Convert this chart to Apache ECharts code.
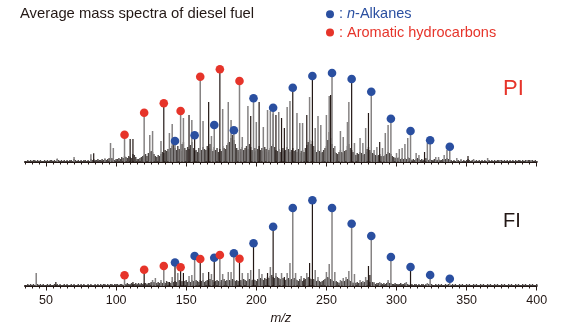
<!DOCTYPE html>
<html><head><meta charset="utf-8">
<script src="https://cdn.jsdelivr.net/npm/echarts@6/dist/echarts.min.js"></script>
<style>html,body{margin:0;padding:0;background:#fff}#c{width:562px;height:332px}</style>
</head><body><div id="c"></div>
<script>
// ---------------- data ----------------
const mzMin = 35, mzMax = 400;
const tickLabels = [50, 100, 150, 200, 250, 300, 350, 400];

const alkaneMz   = [142, 156, 170, 184, 198, 212, 226, 240, 254, 268, 282, 296, 310, 324, 338];
const aromaticMz = [106, 120, 134, 146, 160, 174, 188];

// relative intensities (PI = photoionization, FI = field ionization)
const piAlkane   = [21, 26.7, 37, 31.7, 63.7, 54.3, 74.3, 86, 89, 83, 70.3, 43.3, 31, 21.7, 15.3];
const piAromatic = [27.3, 49.3, 58.7, 51, 85.3, 92.7, 81];
const fiAlkane   = [23.5, 30, 28.3, 32.7, 42.7, 59.3, 78, 85.7, 78, 62.3, 50, 29, 19, 11, 7.3];
const fiAromatic = [10.7, 16.3, 20, 18.7, 27, 31, 27.3];

// marked peaks that belong to the dark trace
const piDarkPeaks = [134, 174, 156, 226, 240, 268];
const fiDarkPeaks = [120, 146, 160, 188, 142, 170, 198, 212, 240, 310];

// other peaks [m/z, intensity]
const piGray = [[96,19],[98,14],[124,27],[126,31],[132,21],[138,29],[140,38],[148,44],[154,42],[162,41],
  [168,26],[176,53],[180,60],[182,42],[190,25],[194,56],[200,40],[205,35],[208,52],[210,51],[212,48],
  [216,50],[222,55],[224,61],[229,49],[231,39],[233,39],[238,65],[242,34],[244,46],[246,37],[250,47],
  [252,66],[256,16],[260,31],[262,25],[265,40],[266,60],[270,19],[274,24],[276,19],[278,34],[284,12],
  [286,15],[290,14],[292,29],[294,37],[300,9],[302,13],[304,14],[306,18],[308,24],[314,9],[316,7],
  [322,19],[328,5],[330,5],[334,7],[336,12],[343,4],[346,3],[355,3],[365,4],[374,2],[393,2],[396,2],
  [58,3.5],[70,5],[82,7.7],[92,3.7]];
const piBlack = [[84,8.7],[110,23],[112,23],[152,47],[166,60],[196,46],[202,60],[214,47],[218,44],[220,34],
  [236,47],[253,67],[280,49],[288,20],[320,10],[351,6]];

const fiGray = [[43,13],[126,6],[128,8],[132,6],[140,9],[144,13],[152,10],[154,11],[162,13],[168,12],
  [176,12],[180,14],[182,14],[190,13],[194,13],[196,16],[202,17],[204,12],[210,19],[214,13],[218,13],
  [222,13],[224,23],[228,13],[232,10],[236,13],[242,16],[244,9],[250,14],[252,22],[256,14],[260,6],
  [262,8],[264,9],[266,15],[270,12],[274,6],[276,5],[278,9],[284,4],[288,4],[294,6],[307,4],[322,3]];
const fiBlack = [[57,4],[112,4],[138,4],[148,13],[166,14],[208,13],[220,9],[234,8],[238,23],[280,20],[281,11]];

// dense low-level background, one value per m/z starting at lowStartMz
const lowStartMz = 36;
const piLow = [
 1,2,1,2,1,2,2,1,2,1,2,1,1,2,1,2,1,2,2,1,
 2,1,3,2,1,2,1,2,1,2,1,2,2,1,3,2,1,2,1,2,
 1,2,2,1,2,1,3,2,3,2,
 2,3,2,2,3,2,3,2,3,4,3,4,3,2,3,
 3,4,3,5,4,6,5,4,6,5,4,8,7,5,3,3,4,5,6,7,
 8,6,9,10,11,10,8,6,5,7,6,8,10,9,12,11,13,10,14,16,
 18,14,12,16,13,11,18,20,14,12,15,13,17,20,14,11,12,10,14,9,
 12,15,13,12,16,14,18,13,11,15,12,14,10,13,11,16,14,13,17,19,
 20,24,27,22,18,14,12,10,13,15,12,14,16,13,18,15,12,10,14,11,
 13,16,12,14,11,15,13,10,12,14,16,18,15,12,11,13,10,12,14,11,
 12,15,13,10,12,14,11,12,10,13,9,11,12,10,14,17,20,22,18,21,
 16,12,10,12,11,9,10,12,14,16,22,30,24,18,14,10,9,8,10,12,
 10,9,11,12,16,18,14,12,10,8,7,9,8,10,9,7,8,10,13,15,
 12,10,9,8,7,6,7,8,6,5,6,7,8,10,9,8,6,5,4,5,
 4,5,3,4,3,4,3,5,4,3,2,3,2,3,4,3,2,3,2,3,
 4,3,2,3,2,2,3,2,2,3,2,2,3,2,3,4,3,2,2,1,
 2,1,2,2,1,2,1,2,1,2,3,2,1,2,2,1,2,1,2,1,
 2,1,2,1,2,2,1,2,1,2,1,2,2,1,2,1,2,1,2,1,
 2,1,2,1,2,1,2,2,1,2,1,2,1,2,2,1,2,1,2,1];
const fiLow = [
 1,2,1,2,1,2,1,1,2,1,2,1,2,1,1,2,1,2,1,1,
 2,1,2,1,2,1,1,2,1,2,1,1,2,1,2,1,1,2,1,2,
 1,2,1,1,2,1,2,1,1,2,
 1,2,1,2,1,2,2,1,2,1,2,2,1,2,2,
 2,1,2,2,1,2,2,3,2,2,3,2,2,3,2,3,2,3,2,3,
 3,2,3,3,4,3,4,3,3,4,3,4,3,4,3,5,4,4,3,5,
 4,5,4,5,6,4,5,4,5,6,4,5,4,6,5,4,6,5,4,6,
 5,6,4,5,6,5,7,5,6,4,5,6,5,4,6,5,7,5,6,5,
 6,5,7,6,5,6,5,4,6,5,7,6,5,6,7,5,6,7,6,5,
 7,6,8,7,6,8,7,9,8,10,11,9,8,10,9,8,7,6,8,7,
 6,7,8,6,7,6,8,7,6,5,7,6,5,6,7,8,9,8,7,6,
 7,6,5,6,5,4,5,6,7,8,9,8,7,6,5,4,5,4,3,4,
 5,4,5,6,7,6,5,4,3,4,3,4,3,3,4,3,4,5,6,5,
 4,3,4,3,2,3,3,2,3,2,3,2,3,4,3,3,2,2,3,2,
 2,2,3,2,2,3,2,2,1,2,2,1,2,2,1,2,1,2,2,1,
 2,1,2,1,2,1,1,2,1,2,1,2,1,1,2,1,2,1,1,2,
 1,2,1,1,2,1,2,1,1,2,1,2,1,1,2,1,2,1,1,2,
 1,2,1,1,2,1,2,1,1,2,1,2,1,1,2,1,2,1,1,2,
 1,2,1,1,2,1,2,1,1,2,1,2,1,1,2,1,2,1,1,2];

// ---------------- chart ----------------
const BLUE = '#2a4fa0', RED = '#e6342a', INK = '#231815', GRAY = '#858282', LOW = '#4a4442';
const FONT = "'Liberation Sans', Arial, Helvetica, sans-serif";

function pairs(mz, vals) { return mz.map((m, i) => [m, vals[i]]); }
function lowPairs(arr) { return arr.map((v, i) => [lowStartMz + i, v]); }
function splitMarked(dark, lists) {
  const g = [], k = [];
  lists.forEach(p => (dark.indexOf(p[0]) >= 0 ? k : g).push(p));
  return [g, k];
}
function stem(color, lw) {
  return function (params, api) {
    const a = api.coord([api.value(0), 0]);
    const b = api.coord([api.value(0), api.value(1)]);
    return { type: 'line', shape: { x1: a[0], y1: a[1], x2: b[0], y2: b[1] },
             style: { stroke: color, lineWidth: lw } };
  };
}
function stemSeries(data, gi, color, lw, z) {
  return { type: 'custom', xAxisIndex: gi, yAxisIndex: gi, data: data, z: z, silent: true,
           renderItem: stem(color, lw), encode: { x: 0, y: 1 } };
}

const panels = [
  { alk: piAlkane, aro: piAromatic, dark: piDarkPeaks, gray: piGray, black: piBlack, low: piLow },
  { alk: fiAlkane, aro: fiAromatic, dark: fiDarkPeaks, gray: fiGray, black: fiBlack, low: fiLow }
];

const series = [];
panels.forEach((p, gi) => {
  const marked = pairs(alkaneMz, p.alk).concat(pairs(aromaticMz, p.aro));
  const sp = splitMarked(p.dark, marked);
  series.push(stemSeries(lowPairs(p.low), gi, LOW, 1.4, 1));
  series.push(stemSeries(p.gray.concat(sp[0]), gi, GRAY, 1.5, 2));
  series.push(stemSeries(p.black.concat(sp[1]), gi, INK, 1.2, 3));
  series.push({ type: 'scatter', name: 'n-Alkanes', xAxisIndex: gi, yAxisIndex: gi, z: 10,
    symbolSize: 8.6, itemStyle: { color: BLUE, opacity: 1 }, data: pairs(alkaneMz, p.alk) });
  series.push({ type: 'scatter', name: 'Aromatic hydrocarbons', xAxisIndex: gi, yAxisIndex: gi, z: 10,
    symbolSize: 8.6, itemStyle: { color: RED, opacity: 1 }, data: pairs(aromaticMz, p.aro) });
});

const gridTop = [62, 186];
const grids = [0, 1, 0, 1].map(i => ({ left: 25, right: 25.3, top: gridTop[i], height: 100 }));

function minorAxis(gi, labels) {
  return { type: 'value', gridIndex: gi, min: mzMin, max: mzMax, interval: 5,
    axisLine: { show: true, onZero: false, lineStyle: { color: INK, width: 2 } },
    axisTick: { show: true, length: 2.5, lineStyle: { color: INK, width: 1 } },
    axisLabel: labels ? { show: true, customValues: tickLabels, margin: 8, color: INK, fontSize: 12.5,
                          fontFamily: FONT } : { show: false },
    splitLine: { show: false },
    name: labels ? 'm/z' : '', nameLocation: 'middle', nameGap: 26,
    nameTextStyle: { fontStyle: 'italic', fontSize: 13, color: INK, fontFamily: FONT } };
}
function majorAxis(gi) {
  return { type: 'value', gridIndex: gi, min: mzMin, max: mzMax,
    axisLine: { show: false },
    axisTick: { show: true, customValues: tickLabels, length: 4.5, lineStyle: { color: INK, width: 1 } },
    axisLabel: { show: false }, splitLine: { show: false } };
}

const option = {
  animation: false,
  backgroundColor: '#fff',
  textStyle: { fontFamily: FONT },
  title: [
    { text: 'Average mass spectra of diesel fuel', left: 20, top: 6, padding: 0,
      textStyle: { fontSize: 14.8, fontWeight: 'normal', color: INK, fontFamily: FONT } },
    { text: 'PI', left: 503, top: 78, padding: 0,
      textStyle: { fontSize: 22, fontWeight: 'normal', color: RED, fontFamily: FONT } },
    { text: 'FI', left: 503, top: 211, padding: 0,
      textStyle: { fontSize: 20, fontWeight: 'normal', color: INK, fontFamily: FONT } }
  ],
  legend: {
    orient: 'vertical', left: 326, top: 5, padding: 0, itemGap: 0,
    itemWidth: 8, itemHeight: 8, icon: 'circle',
    data: [{ name: 'n-Alkanes', textStyle: { color: BLUE } },
           { name: 'Aromatic hydrocarbons', textStyle: { color: RED } }],
    formatter: name => name === 'n-Alkanes' ? '{b|: }{bi|n}{b|-Alkanes}' : ': ' + name,
    textStyle: { fontSize: 14.5, lineHeight: 18.4, fontFamily: FONT,
      rich: { b: { color: BLUE, fontSize: 14.5, lineHeight: 18.4, fontFamily: FONT },
              bi: { color: BLUE, fontSize: 14.5, lineHeight: 18.4, fontStyle: 'italic', fontFamily: FONT } } }
  },
  grid: grids,
  xAxis: [minorAxis(0, false), minorAxis(1, true), majorAxis(2), majorAxis(3)],
  yAxis: [0, 1, 2, 3].map(gi => ({ type: 'value', gridIndex: gi, min: 0, max: 100, show: false })),
  series: series
};

const chart = echarts.init(document.getElementById('c'), null, { renderer: 'canvas' });
chart.setOption(option);
</script>
</body></html>
